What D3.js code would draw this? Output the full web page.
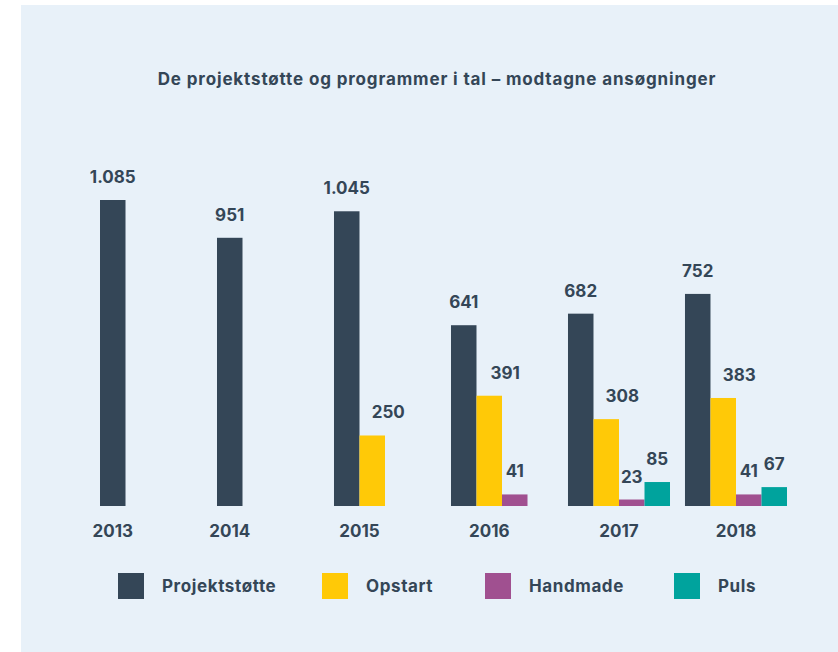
<!DOCTYPE html>
<html>
<head>
<meta charset="utf-8">
<script src="https://cdn.jsdelivr.net/npm/d3@7"></script>
<style>
  html, body { margin: 0; padding: 0; background: #ffffff; }
  svg { display: block; }
  text { font-family: "Inter", "Open Sans", sans-serif; font-weight: 700; fill: #344657; }
</style>
</head>
<body>
<svg id="chart" width="838" height="652"></svg>
<script>
// ---- data ----
const title = "De projektstøtte og programmer i tal – modtagne ansøgninger";
const years = ["2013", "2014", "2015", "2016", "2017", "2018"];
const seriesNames = ["Projektstøtte", "Opstart", "Handmade", "Puls"];
const projektstotte = [1085, 951, 1045, 641, 682, 752];
const opstart = [null, null, 250, 391, 308, 383];
const handmade = [null, null, null, 41, 23, 41];
const puls = [null, null, null, null, 85, 67];

// ---- styles / layout ----
const colors = ["#344657", "#FFC907", "#A05090", "#00A39D"];
const seriesValues = [projektstotte, opstart, handmade, puls];
const labelDx = [0, 16, 0, 0];
const legendX = [118, 322, 485, 674];

const svg = d3.select("#chart");
svg.append("rect").attr("x", 21).attr("y", 5).attr("width", 817).attr("height", 647).attr("fill", "#E8F1F9");

const t = svg.append("text").attr("x", 437).attr("y", 85).attr("text-anchor", "middle")
  .style("font-size", "17px").style("letter-spacing", "0.3px").text(title);
const tw = t.node().getComputedTextLength();
t.style("letter-spacing", (0.3 + (558 - tw) / (title.length - 1)) + "px");

const x = d3.scaleBand().domain(years).range([100, 787]).paddingInner(0.128).paddingOuter(0);
const xs = d3.scaleBand().domain(d3.range(seriesNames.length)).range([0, x.bandwidth()]).padding(0);
const y = d3.scaleLinear().domain([0, 1085]).range([506, 200]);

const fmt = d3.formatLocale({ decimal: ",", thousands: ".", grouping: [3], currency: ["", ""] }).format(",d");

const cells = [];
years.forEach((yr, i) => {
  seriesValues.forEach((arr, s) => {
    if (arr[i] != null) cells.push({ year: yr, s, v: arr[i] });
  });
});

svg.append("g").selectAll("rect").data(cells).join("rect")
  .attr("x", d => x(d.year) + xs(d.s))
  .attr("y", d => y(d.v))
  .attr("width", xs.bandwidth())
  .attr("height", d => y(0) - y(d.v))
  .attr("fill", d => colors[d.s]);

svg.append("g").selectAll("text").data(cells).join("text")
  .attr("x", d => x(d.year) + xs(d.s) + xs.bandwidth() / 2 + labelDx[d.s])
  .attr("y", d => y(d.v) - 17)
  .attr("text-anchor", "middle")
  .style("font-size", "17px")
  .text(d => fmt(d.v));

svg.append("g").selectAll("text").data(years).join("text")
  .attr("x", (yr, i) => {
    const n = seriesValues.filter(a => a[i] != null).length;
    return x(yr) + (xs.bandwidth() * n) / 2;
  })
  .attr("y", 537)
  .attr("text-anchor", "middle")
  .style("font-size", "17px")
  .text(d => d);

// legend
const items = svg.append("g").selectAll("g").data(seriesNames).join("g")
  .attr("transform", (d, i) => `translate(${legendX[i]},0)`);
items.append("rect").attr("width", 26).attr("height", 26).attr("y", 573).attr("fill", (d, i) => colors[i]);
items.append("text").attr("x", 44).attr("y", 592).style("font-size", "17px").style("letter-spacing", "0.6px").text(d => d);
</script>
</body>
</html>
